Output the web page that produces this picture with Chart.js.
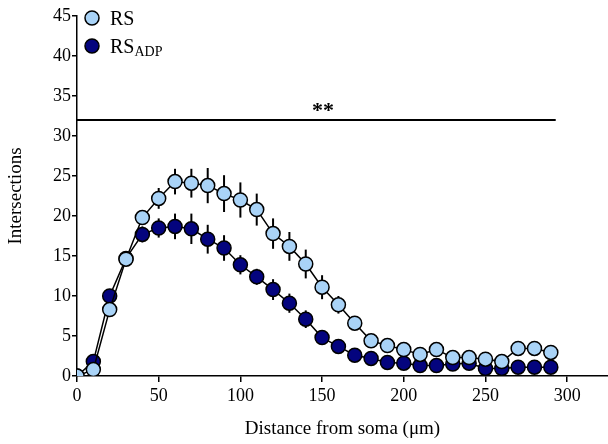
<!DOCTYPE html>
<html>
<head>
<meta charset="utf-8">
<script src="https://cdn.jsdelivr.net/npm/chart.js@4/dist/chart.umd.min.js"></script>
<style>
  html, body { margin: 0; padding: 0; background: #fff; }
  #wrap { width: 608px; height: 444px; }
</style>
</head>
<body>
<div id="wrap"><canvas id="sholl" width="608" height="444"></canvas></div>
<script>
// distances from soma (um)
const distances = [0, 10, 20, 30, 40, 50, 60, 70, 80, 90, 100, 110, 120, 130, 140,
  150, 160, 170, 180, 190, 200, 210, 220, 230, 240, 250, 260, 270, 280, 290];

const rsMean = [0, 0.8, 8.3, 14.6, 19.8, 22.2, 24.3, 24.1, 23.8, 22.8, 22.0, 20.8, 17.8, 16.2, 14.0,
  11.1, 8.9, 6.6, 4.4, 3.8, 3.3, 2.7, 3.3, 2.3, 2.3, 2.1, 1.8, 3.45, 3.45, 2.95];
const rsSem = [0, 0.3, 0.6, 0.8, 0.9, 1.3, 1.6, 1.8, 2.2, 2.3, 2.2, 2.0, 1.9, 1.8, 1.8,
  1.5, 1.1, 0.7, 0.5, 0.4, 0.4, 0.3, 0.3, 0.3, 0.3, 0.3, 0.3, 0.3, 0.3, 0.3];

const adpMean = [0, 1.8, 10.0, 14.7, 17.7, 18.5, 18.7, 18.4, 17.1, 16.0, 13.9, 12.4, 10.8, 9.1, 7.1,
  4.8, 3.7, 2.6, 2.2, 1.7, 1.6, 1.3, 1.3, 1.5, 1.6, 0.95, 0.95, 1.1, 1.1, 1.1];
const adpSem = [0, 0.4, 0.7, 0.8, 1.0, 1.2, 1.6, 1.9, 1.8, 1.6, 1.2, 1.0, 1.3, 1.2, 1.1,
  0.7, 0.5, 0.4, 0.3, 0.3, 0.2, 0.2, 0.2, 0.2, 0.2, 0.2, 0.2, 0.2, 0.2, 0.2];

const xTicks = [0, 50, 100, 150, 200, 250, 300];
const yTicks = [0, 5, 10, 15, 20, 25, 30, 35, 40, 45];

const sigLine = { from: 0, to: 293, y: 32, label: "**", labelX: 150.5 };

const lightBlue = "#a9d3f7";
const navy = "#04047e";
const serif = "'Liberation Serif', 'Times New Roman', serif";

function toPoints(ys) {
  return distances.map((d, i) => ({ x: d, y: ys[i] }));
}

const errorBars = {
  id: "errorBars",
  beforeDatasetsDraw(chart) {
    const { ctx, scales: { x, y } } = chart;
    ctx.save();
    ctx.strokeStyle = "#000";
    ctx.lineWidth = 2;
    [[adpMean, adpSem], [rsMean, rsSem]].forEach(([m, s]) => {
      distances.forEach((d, i) => {
        if (!s[i]) return;
        const px = x.getPixelForValue(d);
        ctx.beginPath();
        ctx.moveTo(px, y.getPixelForValue(m[i] - s[i]));
        ctx.lineTo(px, y.getPixelForValue(m[i] + s[i]));
        ctx.stroke();
      });
    });
    ctx.restore();
  }
};

const extras = {
  id: "extras",
  afterDraw(chart) {
    const { ctx, scales: { x, y } } = chart;
    ctx.save();
    // significance bar
    const yy = y.getPixelForValue(sigLine.y);
    ctx.strokeStyle = "#000";
    ctx.lineWidth = 2;
    ctx.beginPath();
    ctx.moveTo(x.getPixelForValue(sigLine.from), yy);
    ctx.lineTo(x.getPixelForValue(sigLine.to), yy);
    ctx.stroke();
    ctx.fillStyle = "#000";
    ctx.font = "bold 22px " + serif;
    ctx.textAlign = "center";
    ctx.textBaseline = "alphabetic";
    ctx.fillText(sigLine.label, x.getPixelForValue(sigLine.labelX), yy - 3);

    // legend
    const items = [
      { color: lightBlue, text: "RS", sub: "" },
      { color: navy, text: "RS", sub: "ADP" }
    ];
    items.forEach((it, i) => {
      const cy = 18 + i * 28;
      ctx.beginPath();
      ctx.arc(92, cy, 7, 0, Math.PI * 2);
      ctx.fillStyle = it.color;
      ctx.fill();
      ctx.lineWidth = 1.5;
      ctx.strokeStyle = "#000";
      ctx.stroke();
      ctx.fillStyle = "#000";
      ctx.textAlign = "left";
      ctx.font = "20px " + serif;
      ctx.fillText(it.text, 110, cy + 7);
      if (it.sub) {
        const w = ctx.measureText(it.text).width;
        ctx.font = "14px " + serif;
        ctx.fillText(it.sub, 110 + w, cy + 10);
      }
    });
    ctx.restore();
  }
};

new Chart(document.getElementById("sholl"), {
  type: "line",
  data: {
    datasets: [
      {
        label: "RS",
        data: toPoints(rsMean),
        borderColor: "#000",
        borderWidth: 1.5,
        pointBackgroundColor: lightBlue,
        pointBorderColor: "#000",
        pointBorderWidth: 1.5,
        pointRadius: 7,
        tension: 0,
        fill: false
      },
      {
        label: "RS_ADP",
        data: toPoints(adpMean),
        borderColor: "#000",
        borderWidth: 1.5,
        pointBackgroundColor: navy,
        pointBorderColor: "#000",
        pointBorderWidth: 1.5,
        pointRadius: 7,
        tension: 0,
        fill: false
      }
    ]
  },
  options: {
    responsive: false,
    animation: false,
    layout: { autoPadding: false, padding: { top: 16, right: 0, left: 0, bottom: 0 } },
    plugins: {
      legend: { display: false },
      tooltip: { enabled: false }
    },
    scales: {
      x: {
        type: "linear",
        min: 0,
        max: 325,
        afterFit(scale) {
          scale.height = 68;
          scale.paddingLeft = 0;
          scale.paddingRight = 0;
        },
        afterBuildTicks(scale) { scale.ticks = xTicks.map(v => ({ value: v })); },
        grid: { display: true, drawOnChartArea: false, drawTicks: true, tickLength: 6, color: "#000", lineWidth: 1.5 },
        border: { display: true, color: "#000", width: 1.5 },
        ticks: { color: "#000", font: { family: serif, size: 18 }, padding: 3, maxRotation: 0 },
        title: { display: true, text: "Distance from soma (\u03bcm)", color: "#000", font: { family: serif, size: 19 }, padding: { top: 2 } }
      },
      y: {
        min: 0,
        max: 45,
        afterFit(scale) { scale.width = 77; },
        afterBuildTicks(scale) { scale.ticks = yTicks.map(v => ({ value: v })); },
        grid: { display: true, drawOnChartArea: false, drawTicks: true, tickLength: 5, color: "#000", lineWidth: 1.5 },
        border: { display: true, color: "#000", width: 1.5 },
        ticks: { color: "#000", font: { family: serif, size: 18 }, padding: 1 },
        title: { display: true, text: "Intersections", color: "#000", font: { family: serif, size: 19 }, padding: { top: 5, bottom: 4 } }
      }
    }
  },
  plugins: [errorBars, extras]
});
</script>
</body>
</html>
